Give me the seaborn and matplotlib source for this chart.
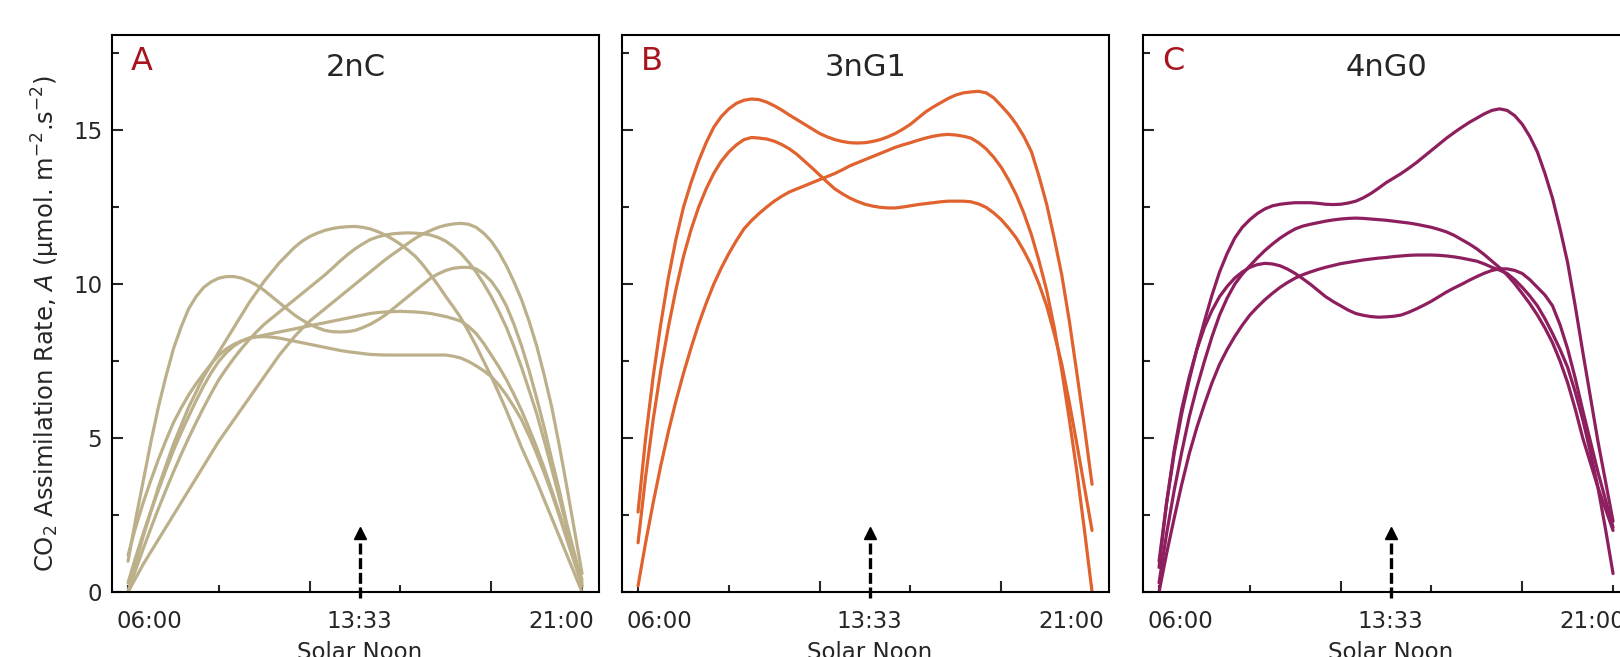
import matplotlib
matplotlib.use("Agg")
import pandas as pd
import matplotlib.pyplot as plt
import seaborn as sns

# hour of day (x), quarter-hour readings shared by every curve
HOURS = [6.0, 6.25, 6.5, 6.75, 7.0, 7.25, 7.5, 7.75, 8.0, 8.25, 8.5, 8.75,
         9.0, 9.25, 9.5, 9.75, 10.0, 10.25, 10.5, 10.75, 11.0, 11.25, 11.5, 11.75,
         12.0, 12.25, 12.5, 12.75, 13.0, 13.25, 13.5, 13.75, 14.0, 14.25, 14.5, 14.75,
         15.0, 15.25, 15.5, 15.75, 16.0, 16.25, 16.5, 16.75, 17.0, 17.25, 17.5, 17.75,
         18.0, 18.25, 18.5, 18.75, 19.0, 19.25, 19.5, 19.75, 20.0, 20.25, 20.5, 20.75, 21.0]

NOON = 13.65
LABEL_POS = [6.72, NOON, 20.3]
LABEL_TEXT = ["06:00", "13:33", "21:00"]

# A - 2nC
NC2_1 = [1.0, 2.35, 3.6, 4.85, 6.0, 7.0, 7.9, 8.6, 9.2, 9.6, 9.9, 10.08,
         10.2, 10.25, 10.25, 10.2, 10.1, 9.97, 9.8, 9.6, 9.4, 9.2, 9.0, 8.84,
         8.7, 8.59, 8.5, 8.46, 8.45, 8.46, 8.5, 8.59, 8.7, 8.84, 9.0, 9.2,
         9.4, 9.6, 9.8, 10.0, 10.2, 10.34, 10.45, 10.52, 10.55, 10.55, 10.5, 10.34,
         10.1, 9.75, 9.3, 8.7, 8.0, 7.2, 6.3, 5.35, 4.3, 3.3, 2.2, 1.25, 0.3]
NC2_2 = [0.0, 0.95, 1.8, 2.6, 3.4, 4.1, 4.8, 5.4, 6.0, 6.5, 7.0, 7.4,
         7.8, 8.2, 8.6, 9.0, 9.4, 9.75, 10.1, 10.4, 10.7, 10.95, 11.2, 11.4,
         11.55, 11.66, 11.75, 11.81, 11.85, 11.87, 11.88, 11.85, 11.8, 11.71, 11.6, 11.46,
         11.3, 11.11, 10.9, 10.62, 10.3, 9.96, 9.6, 9.26, 8.9, 8.46, 8.0, 7.5,
         7.0, 6.46, 5.9, 5.3, 4.7, 4.15, 3.6, 3.0, 2.4, 1.8, 1.2, 0.6, 0.0]
NC2_3 = [0.0, 0.72, 1.4, 2.06, 2.7, 3.31, 3.9, 4.46, 5.0, 5.51, 6.0, 6.46,
         6.9, 7.26, 7.6, 7.91, 8.2, 8.46, 8.7, 8.9, 9.1, 9.3, 9.5, 9.7,
         9.9, 10.1, 10.3, 10.52, 10.75, 10.96, 11.15, 11.31, 11.45, 11.54, 11.6, 11.64,
         11.66, 11.67, 11.66, 11.64, 11.6, 11.52, 11.4, 11.22, 11.0, 10.72, 10.4, 10.02,
         9.6, 9.12, 8.6, 7.98, 7.3, 6.56, 5.8, 4.92, 4.0, 3.06, 2.1, 1.15, 0.2]
NC2_4 = [0.0, 0.45, 0.9, 1.3, 1.7, 2.1, 2.5, 2.9, 3.3, 3.7, 4.1, 4.5,
         4.9, 5.25, 5.6, 5.95, 6.3, 6.65, 7.0, 7.35, 7.7, 8.0, 8.3, 8.56,
         8.8, 9.0, 9.2, 9.4, 9.6, 9.8, 10.0, 10.2, 10.4, 10.6, 10.8, 10.98,
         11.15, 11.33, 11.5, 11.64, 11.75, 11.85, 11.92, 11.96, 11.98, 11.95, 11.85, 11.66,
         11.4, 11.04, 10.6, 10.08, 9.5, 8.8, 8.0, 7.05, 6.0, 4.75, 3.4, 2.0, 0.6]
NC2_5 = [1.2, 2.1, 2.9, 3.62, 4.3, 4.92, 5.5, 5.97, 6.4, 6.77, 7.1, 7.42,
         7.7, 7.9, 8.05, 8.16, 8.25, 8.3, 8.35, 8.4, 8.45, 8.5, 8.55, 8.6,
         8.65, 8.7, 8.75, 8.8, 8.85, 8.9, 8.95, 9.0, 9.05, 9.08, 9.1, 9.11,
         9.12, 9.11, 9.1, 9.08, 9.05, 9.0, 8.95, 8.88, 8.8, 8.63, 8.4, 8.08,
         7.7, 7.32, 6.9, 6.42, 5.9, 5.32, 4.7, 4.02, 3.3, 2.56, 1.8, 1.1, 0.4]
NC2_6 = [0.3, 1.12, 1.9, 2.62, 3.3, 3.97, 4.6, 5.17, 5.7, 6.22, 6.7, 7.13,
         7.5, 7.78, 8.0, 8.15, 8.25, 8.29, 8.3, 8.28, 8.25, 8.2, 8.15, 8.1,
         8.05, 8.0, 7.95, 7.9, 7.85, 7.81, 7.78, 7.75, 7.72, 7.71, 7.7, 7.7,
         7.7, 7.7, 7.7, 7.7, 7.7, 7.7, 7.7, 7.66, 7.6, 7.49, 7.35, 7.19,
         7.0, 6.73, 6.4, 6.02, 5.6, 5.08, 4.5, 3.87, 3.2, 2.47, 1.7, 0.95, 0.2]

# B - 3nG1
NG1_1 = [2.6, 5.0, 7.0, 8.7, 10.2, 11.45, 12.5, 13.3, 14.0, 14.6, 15.1, 15.45,
         15.7, 15.88, 15.98, 16.02, 16.0, 15.92, 15.8, 15.66, 15.5, 15.35, 15.2, 15.05,
         14.9, 14.79, 14.7, 14.64, 14.6, 14.59, 14.6, 14.64, 14.7, 14.79, 14.9, 15.04,
         15.2, 15.4, 15.6, 15.76, 15.9, 16.04, 16.15, 16.22, 16.25, 16.27, 16.22, 16.06,
         15.8, 15.53, 15.2, 14.8, 14.3, 13.5, 12.6, 11.5, 10.3, 8.8, 7.1, 5.35, 3.5]
NG1_2 = [1.6, 3.75, 5.6, 7.2, 8.6, 9.82, 10.9, 11.77, 12.5, 13.1, 13.6, 14.0,
         14.3, 14.53, 14.7, 14.77, 14.75, 14.72, 14.65, 14.54, 14.4, 14.22, 14.0, 13.78,
         13.55, 13.32, 13.1, 12.94, 12.8, 12.69, 12.6, 12.54, 12.5, 12.48, 12.48, 12.51,
         12.55, 12.59, 12.62, 12.65, 12.68, 12.7, 12.7, 12.7, 12.68, 12.61, 12.5, 12.32,
         12.1, 11.82, 11.5, 11.08, 10.6, 10.0, 9.3, 8.4, 7.4, 6.15, 4.8, 3.4, 2.0]
NG1_3 = [0.2, 1.6, 2.9, 4.1, 5.2, 6.2, 7.1, 7.93, 8.7, 9.38, 10.0, 10.53,
         11.0, 11.42, 11.8, 12.07, 12.3, 12.51, 12.7, 12.86, 13.0, 13.1, 13.2, 13.3,
         13.4, 13.5, 13.6, 13.72, 13.85, 13.95, 14.05, 14.15, 14.25, 14.35, 14.45, 14.53,
         14.6, 14.68, 14.75, 14.81, 14.85, 14.87, 14.85, 14.81, 14.75, 14.6, 14.4, 14.13,
         13.8, 13.38, 12.9, 12.3, 11.6, 10.75, 9.8, 8.6, 7.2, 5.6, 3.9, 2.0, 0.0]

# C - 4nG0
NG0_1 = [1.0, 2.9, 4.5, 5.8, 6.9, 7.9, 8.8, 9.65, 10.4, 11.0, 11.5, 11.85,
         12.1, 12.3, 12.45, 12.55, 12.6, 12.63, 12.65, 12.65, 12.65, 12.63, 12.6, 12.59,
         12.6, 12.64, 12.7, 12.81, 12.95, 13.12, 13.3, 13.45, 13.6, 13.77, 13.95, 14.15,
         14.35, 14.55, 14.75, 14.93, 15.1, 15.26, 15.4, 15.54, 15.65, 15.7, 15.65, 15.48,
         15.2, 14.8, 14.3, 13.6, 12.8, 11.8, 10.7, 9.3, 7.8, 6.35, 4.9, 3.6, 2.3]
NG0_2 = [0.3, 1.9, 3.3, 4.55, 5.7, 6.65, 7.5, 8.3, 9.0, 9.55, 10.0, 10.33,
         10.6, 10.86, 11.1, 11.31, 11.5, 11.66, 11.8, 11.89, 11.95, 12.0, 12.05, 12.09,
         12.12, 12.14, 12.15, 12.14, 12.12, 12.1, 12.08, 12.05, 12.02, 11.99, 11.95, 11.9,
         11.85, 11.78, 11.7, 11.59, 11.45, 11.31, 11.15, 10.96, 10.75, 10.54, 10.3, 10.02,
         9.7, 9.37, 9.0, 8.58, 8.1, 7.5, 6.8, 5.95, 5.0, 4.2, 3.4, 2.7, 2.0]
NG0_3 = [0.8, 2.9, 4.6, 5.95, 7.0, 7.88, 8.6, 9.15, 9.6, 9.93, 10.2, 10.4,
         10.55, 10.64, 10.68, 10.66, 10.6, 10.49, 10.35, 10.18, 10.0, 9.8, 9.6, 9.44,
         9.3, 9.16, 9.05, 8.99, 8.95, 8.93, 8.94, 8.96, 9.0, 9.09, 9.2, 9.32,
         9.45, 9.6, 9.75, 9.88, 10.0, 10.13, 10.25, 10.36, 10.45, 10.5, 10.5, 10.45,
         10.35, 10.15, 9.9, 9.65, 9.3, 8.68, 7.9, 6.95, 5.9, 4.9, 3.9, 3.0, 2.1]
NG0_4 = [0.0, 1.25, 2.4, 3.5, 4.5, 5.35, 6.1, 6.8, 7.4, 7.88, 8.3, 8.67,
         9.0, 9.26, 9.5, 9.71, 9.9, 10.06, 10.2, 10.31, 10.4, 10.48, 10.55, 10.61,
         10.67, 10.71, 10.75, 10.79, 10.82, 10.85, 10.87, 10.9, 10.92, 10.94, 10.95, 10.95,
         10.95, 10.94, 10.92, 10.89, 10.85, 10.8, 10.75, 10.66, 10.55, 10.46, 10.35, 10.15,
         9.9, 9.62, 9.3, 8.88, 8.4, 7.88, 7.3, 6.5, 5.6, 4.55, 3.4, 2.05, 0.6]

panels = [
    ("A", "2nC", "#bcb08a", [NC2_1, NC2_2, NC2_3, NC2_4, NC2_5, NC2_6], 112),
    ("B", "3nG1", "#e0622e", [NG1_1, NG1_2, NG1_3], 622),
    ("C", "4nG0", "#8e1f5e", [NG0_1, NG0_2, NG0_3, NG0_4], 1143),
]

sns.set_style("ticks")
plt.rcParams["font.family"] = ["DejaVu Sans"]

W, H = 1620, 657
fig = plt.figure(figsize=(W / 100, H / 100), dpi=100)

for i, (letter, name, color, curves, left_px) in enumerate(panels):
    ax = fig.add_axes([left_px / W, 65 / H, 487 / W, 557 / H])

    rows = []
    for k, vals in enumerate(curves):
        for h, v in zip(HOURS, vals):
            rows.append({"hour": h, "rate": v, "plant": k})
    df = pd.DataFrame(rows)
    sns.lineplot(data=df, x="hour", y="rate", units="plant", estimator=None,
                 color=color, lw=2.3, ax=ax, legend=False)

    ax.set_xlim(5.47, 21.56)
    ax.set_ylim(0, 18.1)
    ax.set_xlabel("")
    ax.set_ylabel("")

    # long ticks at 12 and 18, text labels without tick marks
    ax.set_xticks([LABEL_POS[0], 12, LABEL_POS[1], 18, LABEL_POS[2]],
                  labels=[LABEL_TEXT[0], "", LABEL_TEXT[1], "", LABEL_TEXT[2]])
    ax.set_xticks([6, 9, 15, 21], minor=True)
    ax.set_yticks([0, 5, 10, 15])
    ax.set_yticks([2.5, 7.5, 12.5, 17.5], minor=True)

    ax.tick_params(which="major", direction="in", length=8, width=1.5, labelsize=16.5)
    ax.tick_params(which="minor", direction="in", length=5, width=1.5)
    ax.tick_params(axis="x", which="major", pad=13)
    ax.tick_params(axis="y", which="major", pad=7, labelleft=(i == 0))

    xt = ax.xaxis.get_major_ticks()
    for j in (0, 2, 4):
        xt[j].tick1line.set_visible(False)

    for s in ax.spines.values():
        s.set_linewidth(1.5)
        s.set_color("black")

    # solar noon arrow
    ax.plot([NOON, NOON], [-0.2, 1.8], color="black", lw=2.4,
            ls=(0, (3.3, 1.1)), clip_on=False)
    ax.plot([NOON], [1.92], marker="^", ms=8, color="black")
    ax.annotate("Solar Noon", xy=(NOON, 0), xytext=(0, -35), textcoords="offset points",
                ha="center", va="top", fontsize=16.5, annotation_clip=False)

    ax.text(19 / 487, 1 - 35 / 557, letter, transform=ax.transAxes,
            color="#a8141e", fontsize=23, ha="left", va="baseline")
    ax.text(0.5, 1 - 41 / 557, name, transform=ax.transAxes,
            fontsize=22, ha="center", va="baseline")

fig.text(46 / W, 0.507, r"CO$_2$ Assimilation Rate, $\mathit{A}$ (µmol. m$^{-2}$.s$^{-2}$)",
         rotation=90, ha="center", va="center", fontsize=17.5)

fig.savefig("out.png", dpi=100)
